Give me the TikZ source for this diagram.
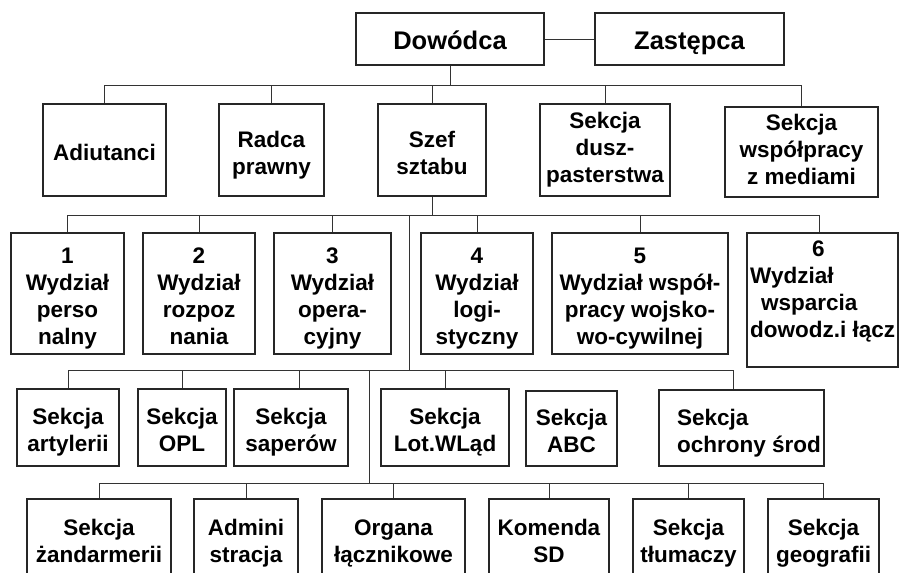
\documentclass[tikz,border=0pt]{standalone}
\usepackage{fontspec}
\setmainfont{Liberation Sans}
\newcommand\linestrut{\rule[-6pt]{0pt}{27pt}}
\begin{document}
\begin{tikzpicture}[x=1pt,y=-1pt,
  unit/.style={draw=black!85, line width=1.2pt, inner sep=0pt, align=center, text depth=6pt,
    font=\bfseries\fontsize{22.5}{27}\selectfont},
  head/.style={unit, text height=27pt, font=\bfseries\fontsize{25.5}{30}\selectfont},
  % height of the text block above its last baseline, per row
  oneline/.style={text height=27pt},
  stafftwo/.style={text height=55pt},
  staffthree/.style={text height=71pt},
  divfour/.style={text height=107pt},
  sectwo/.style={text height=54pt},
  suptwo/.style={text height=51pt},
  txt/.style={inner sep=0pt, execute at end node=\linestrut,
    font=\bfseries\fontsize{22.5}{27}\selectfont},
  link/.style={draw=black!80, line width=1pt}]
\useasboundingbox (0,0) rectangle (900,573);
\begin{scope}
\clip (0,0) rectangle (900,573);

% command level
\node[head, minimum width=188pt, minimum height=52pt] (dow) at (450,39) {Dowódca};
\node[head, minimum width=189pt, minimum height=52pt] (zas) at (689.5,39) {Zastępca};

% staff directly under the commander
\node[unit, oneline, minimum width=123pt, minimum height=92pt] (adj) at (104.5,150) {Adiutanci};
\node[unit, stafftwo, minimum width=105pt, minimum height=92pt] (rad) at (271.5,150) {Radca\\prawny};
\node[unit, stafftwo, minimum width=108pt, minimum height=92pt] (szef) at (432,150) {Szef\\sztabu};
\node[unit, staffthree, minimum width=130pt, minimum height=92pt] (dus) at (605,150) {Sekcja\\dusz-\\pasterstwa};
\node[unit, staffthree, minimum width=153pt, minimum height=90pt] (med) at (801.5,152) {Sekcja\\współpracy\\z mediami};

% divisions
\node[unit, divfour, minimum width=113pt, minimum height=121pt] (w1) at (67.5,293.5) {1\\Wydział\\perso\\nalny};
\node[unit, divfour, minimum width=112pt, minimum height=121pt] (w2) at (199,293.5) {2\\Wydział\\rozpoz\\nania};
\node[unit, divfour, minimum width=117pt, minimum height=121pt] (w3) at (332.5,293.5) {3\\Wydział\\opera-\\cyjny};
\node[unit, divfour, minimum width=112pt, minimum height=121pt] (w4) at (477,293.5) {4\\Wydział\\logi-\\styczny};
\node[unit, divfour, minimum width=176pt, minimum height=121pt] (w5) at (640,293.5) {5\\Wydział współ-\\pracy wojsko-\\wo-cywilnej};
\node[unit, minimum width=151pt, minimum height=134pt] (w6) at (822.5,300) {};
\node[txt, anchor=west, align=left] (w6t) at (750,292) {\hspace*{62pt}6\\Wydział\\\hspace*{11pt}wsparcia\\dowodz.i łącz};

% sections
\node[unit, sectwo, minimum width=102pt, minimum height=77pt] (art) at (68,427.5) {Sekcja\\artylerii};
\node[unit, sectwo, minimum width=88pt, minimum height=77pt] (opl) at (182,427.5) {Sekcja\\OPL};
\node[unit, sectwo, minimum width=114pt, minimum height=77pt] (sap) at (291,427.5) {Sekcja\\saperów};
\node[unit, sectwo, minimum width=128pt, minimum height=77pt] (lot) at (445,427.5) {Sekcja\\Lot.WLąd};
\node[unit, sectwo, minimum width=91pt, minimum height=75pt] (abc) at (571.5,428.5) {Sekcja\\ABC};
\node[unit, minimum width=165pt, minimum height=76pt] (och) at (741.5,428) {};
\node[txt, anchor=west, align=left] (ocht) at (677,433.5) {Sekcja\\ochrony środ};

% support elements
\node[unit, suptwo, minimum width=144pt, minimum height=82pt] (zan) at (99,540) {Sekcja\\żandarmerii};
\node[unit, suptwo, minimum width=104pt, minimum height=82pt] (adm) at (246,540) {Admini\\stracja};
\node[unit, suptwo, minimum width=143pt, minimum height=82pt] (org) at (393.5,540) {Organa\\łącznikowe};
\node[unit, suptwo, minimum width=120pt, minimum height=82pt] (kom) at (549,540) {Komenda\\SD};
\node[unit, suptwo, minimum width=111pt, minimum height=82pt] (tlu) at (688.5,540) {Sekcja\\tłumaczy};
\node[unit, suptwo, minimum width=111pt, minimum height=82pt] (geo) at (823.5,540) {Sekcja\\geografii};

% bus levels and junctions
\coordinate (b2) at (0,85);
\coordinate (b3) at (0,215);
\coordinate (b4) at (0,370);
\coordinate (b5) at (0,483);
\coordinate (j3) at (409,215);
\coordinate (j4) at (409,370);
\coordinate (j5) at (369,370);
\coordinate (j6) at (369,483);

% connectors
\draw[link] (dow) -- (zas);
\draw[link] (dow.south) -- (dow.south |- b2);
\draw[link] (adj.north |- b2) -- (med.north |- b2);
\foreach \n in {adj,rad,szef,dus,med}
  \draw[link] (\n.north) -- (\n.north |- b2);

\draw[link] (szef.south) -- (szef.south |- b3);
\draw[link] (w1.north |- b3) -- ([xshift=-3.5pt]w6.north |- b3);
\foreach \n in {w1,w2,w3,w4,w5}
  \draw[link] (\n.north) -- (\n.north |- b3);
\draw[link] ([xshift=-3.5pt]w6.north) -- ([xshift=-3.5pt]w6.north |- b3);

\draw[link] (j3) -- (j4);
\draw[link] (art.north |- b4) -- ([xshift=-8.5pt]och.north |- b4);
\foreach \n in {art,opl,lot}
  \draw[link] (\n.north) -- (\n.north |- b4);
\draw[link] ([xshift=8pt]sap.north) -- ([xshift=8pt]sap.north |- b4);
\draw[link] ([xshift=-8.5pt]och.north) -- ([xshift=-8.5pt]och.north |- b4);

\draw[link] (j5) -- (j6);
\draw[link] (zan.north |- b5) -- (geo.north |- b5);
\foreach \n in {zan,adm,org,kom,tlu,geo}
  \draw[link] (\n.north) -- (\n.north |- b5);
\end{scope}
\end{tikzpicture}
\end{document}
